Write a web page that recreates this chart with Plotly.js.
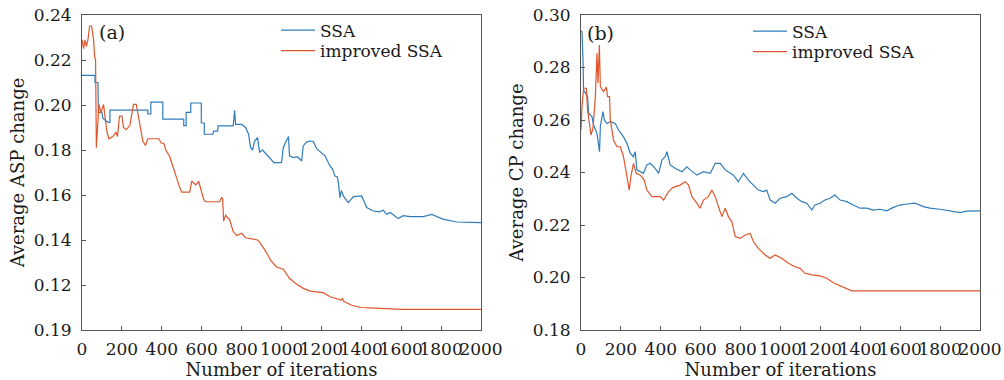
<!DOCTYPE html>
<html>
<head>
<meta charset="utf-8">
<script src="https://cdn.plot.ly/plotly-3.0.1.min.js"></script>
<style>html,body{margin:0;padding:0;background:#fff;}#chart{width:1004px;height:380px;}</style>
</head>
<body>
<div id="chart"></div>
<script>
// ---- Panel (a): Average ASP change ----
const aSSA_x = [0,65,65,80,82,100,105,130,140,140,330,330,345,345,405,405,510,510,522,522,545,545,598,598,613,613,655,660,680,682,758,765,770,800,820,835,845,855,865,880,890,905,925,945,962,1000,1009,1020,1029,1035,1040,1059,1080,1101,1109,1125,1143,1160,1176,1200,1218,1243,1255,1268,1280,1285,1293,1300,1310,1322,1335,1360,1380,1402,1427,1460,1490,1510,1527,1545,1560,1585,1610,1645,1711,1753,1812,1879,1950,2000];
const aSSA_y = [0.2132,0.2132,0.210,0.210,0.1967,0.1967,0.194,0.1923,0.1923,0.1977,0.1977,0.196,0.196,0.2013,0.2013,0.1937,0.1937,0.1908,0.1908,0.1967,0.1967,0.2009,0.2009,0.192,0.192,0.187,0.187,0.1884,0.1884,0.1907,0.1907,0.1977,0.1914,0.1914,0.190,0.187,0.181,0.180,0.184,0.1855,0.179,0.180,0.178,0.176,0.1744,0.1744,0.181,0.1833,0.1855,0.186,0.1774,0.1766,0.177,0.1751,0.1818,0.1835,0.184,0.1838,0.1806,0.179,0.1774,0.1729,0.1716,0.1684,0.168,0.1655,0.1588,0.162,0.1596,0.158,0.1566,0.1593,0.1596,0.1596,0.1544,0.1529,0.1525,0.1532,0.1514,0.1522,0.1512,0.1495,0.1508,0.1504,0.1504,0.1514,0.1492,0.148,0.1478,0.1477];

const aImp_x = [0,8,15,22,30,38,48,52,58,63,68,72,78,85,95,108,115,125,135,155,170,178,188,200,208,222,240,250,258,272,280,290,305,318,330,385,398,410,420,440,455,465,478,490,500,540,550,570,585,598,610,620,690,700,705,710,720,740,757,775,800,820,842,880,892,925,945,975,1009,1040,1076,1110,1143,1209,1244,1298,1305,1312,1351,1400,1443,1520,1600,2000];
const aImp_y = [0.229,0.225,0.229,0.226,0.229,0.2351,0.2351,0.232,0.229,0.2218,0.220,0.181,0.190,0.2003,0.1965,0.2003,0.195,0.188,0.185,0.186,0.188,0.186,0.1951,0.1951,0.190,0.189,0.191,0.197,0.2003,0.2003,0.196,0.190,0.184,0.182,0.185,0.185,0.183,0.183,0.180,0.177,0.173,0.170,0.166,0.1633,0.1613,0.1613,0.1662,0.1645,0.166,0.162,0.158,0.157,0.157,0.159,0.158,0.1484,0.151,0.149,0.144,0.142,0.143,0.141,0.1406,0.140,0.1388,0.1344,0.131,0.128,0.127,0.123,0.1203,0.1185,0.1173,0.1166,0.1148,0.1133,0.114,0.1128,0.111,0.110,0.1098,0.1095,0.1092,0.1092];

// ---- Panel (b): Average CP change ----
const bSSA_x = [0,5,10,13,33,38,55,63,80,93,97,110,117,130,147,172,188,213,230,247,263,272,280,297,313,330,347,372,389,406,422,431,447,472,506,531,547,581,614,648,673,698,723,764,789,814,839,864,889,914,931,948,973,998,1031,1057,1082,1107,1132,1157,1173,1198,1223,1248,1273,1299,1332,1365,1399,1432,1466,1499,1532,1566,1599,1633,1674,1716,1749,1799,1849,1900,1933,2000];
const bSSA_y = [0.294,0.2937,0.2829,0.2714,0.2689,0.2626,0.2613,0.2581,0.2549,0.2479,0.2575,0.2632,0.260,0.2587,0.2594,0.2587,0.2562,0.2536,0.2511,0.2473,0.246,0.2479,0.241,0.2403,0.2397,0.2429,0.2435,0.2416,0.2397,0.2448,0.246,0.2479,0.2429,0.2416,0.2403,0.2422,0.241,0.239,0.2403,0.2397,0.2435,0.2435,0.241,0.239,0.2365,0.2397,0.2371,0.2352,0.2333,0.2327,0.2333,0.2295,0.2283,0.2302,0.2308,0.2321,0.2302,0.2289,0.2283,0.2257,0.2276,0.2283,0.2295,0.2302,0.2314,0.2295,0.2289,0.2276,0.2264,0.2264,0.2257,0.226,0.2254,0.2267,0.2276,0.228,0.2283,0.227,0.2264,0.226,0.2254,0.2247,0.2253,0.2254];

const bImp_x = [0,5,13,27,33,43,50,60,72,80,85,92,97,113,127,133,143,147,163,180,197,213,222,234,242,250,263,277,297,317,330,356,397,414,439,456,472,497,522,539,556,581,597,614,639,656,673,689,706,723,739,756,773,798,823,848,864,889,923,948,973,1006,1040,1073,1098,1123,1157,1198,1232,1265,1290,1324,1357,2000];
const bImp_y = [0.2562,0.2651,0.2721,0.2721,0.2638,0.2581,0.2543,0.2568,0.2689,0.2854,0.274,0.2886,0.2727,0.2708,0.2725,0.2689,0.2689,0.260,0.2524,0.2498,0.2498,0.246,0.2422,0.2371,0.2333,0.2384,0.2435,0.2397,0.239,0.2371,0.2333,0.2308,0.2308,0.2295,0.2327,0.234,0.2346,0.2352,0.2365,0.2352,0.2308,0.2283,0.2264,0.2295,0.2308,0.2333,0.2308,0.227,0.2232,0.2264,0.2232,0.2213,0.2156,0.2149,0.2162,0.2168,0.2137,0.2111,0.2086,0.2073,0.2086,0.2073,0.2054,0.2041,0.2035,0.2016,0.201,0.2006,0.1997,0.198,0.1971,0.1959,0.1949,0.1949];

const xTicks = [0,200,400,600,800,1000,1200,1400,1600,1800,2000];
const aYTicks = [0.10,0.12,0.14,0.16,0.18,0.20,0.22,0.24];
const aYTickText = ['0.19','0.12','0.14','0.16','0.18','0.20','0.22','0.24'];
const bYTicks = [0.18,0.20,0.22,0.24,0.26,0.28,0.30];
const bYTickText = ['0.18','0.20','0.22','0.24','0.26','0.28','0.30'];
const seriesNames = ['SSA','improved SSA'];
const panelLabels = ['(a)','(b)'];
const xTitle = 'Number of iterations';
const yTitles = ['Average ASP change','Average CP change'];

const BLUE = '#2f7cbb', RED = '#e0562c';
const FONT = 'DejaVu Serif, Liberation Serif, serif';
const TXT = '#1a1a1a';

const traces = [
  {x:aSSA_x, y:aSSA_y, name:seriesNames[0], type:'scatter', mode:'lines', line:{color:BLUE,width:1.2}, xaxis:'x', yaxis:'y', legend:'legend'},
  {x:aImp_x, y:aImp_y, name:seriesNames[1], type:'scatter', mode:'lines', line:{color:RED,width:1.2}, xaxis:'x', yaxis:'y', legend:'legend3'},
  {x:bSSA_x, y:bSSA_y, name:seriesNames[0], type:'scatter', mode:'lines', line:{color:BLUE,width:1.2}, xaxis:'x2', yaxis:'y2', legend:'legend2'},
  {x:bImp_x, y:bImp_y, name:seriesNames[1], type:'scatter', mode:'lines', line:{color:RED,width:1.2}, xaxis:'x2', yaxis:'y2', legend:'legend4'}
];

const axCommon = {
  showline:true, mirror:true, linecolor:'#555', linewidth:1,
  ticks:'inside', ticklen:4, tickcolor:'#555', showgrid:false, zeroline:false,
  tickfont:{family:FONT, size:17, color:TXT}
};

const W = 1004;
const py = p => 1 - (p - 15) / 315;
const legBase = {xanchor:'left', yanchor:'middle', bgcolor:'rgba(0,0,0,0)', borderwidth:0,
  font:{family:FONT,size:17,color:TXT}, itemwidth:34};

const layout = {
  width:1004, height:380,
  margin:{l:0, r:0, t:15, b:50},
  paper_bgcolor:'#fff', plot_bgcolor:'#fff',
  font:{family:FONT, color:TXT, size:17},
  showlegend:true,
  xaxis: Object.assign({}, axCommon, {domain:[82/W, 481/W], range:[0,2000], tickvals:xTicks, tickangle:0, ticklabelstandoff:4,
    title:{text:xTitle, font:{family:FONT,size:18,color:TXT}, standoff:0}, anchor:'y'}),
  yaxis: Object.assign({}, axCommon, {domain:[0,1], range:[0.10,0.24], tickvals:aYTicks, ticktext:aYTickText, ticklabelstandoff:6,
    title:{text:yTitles[0], font:{family:FONT,size:18,color:TXT}, standoff:4}, anchor:'x'}),
  xaxis2: Object.assign({}, axCommon, {domain:[581/W, 980/W], range:[0,2000], tickvals:xTicks, tickangle:0, ticklabelstandoff:4,
    title:{text:xTitle, font:{family:FONT,size:18,color:TXT}, standoff:0}, anchor:'y2'}),
  yaxis2: Object.assign({}, axCommon, {domain:[0,1], range:[0.18,0.30], tickvals:bYTicks, ticktext:bYTickText, ticklabelstandoff:6,
    title:{text:yTitles[1], font:{family:FONT,size:18,color:TXT}, standoff:4}, anchor:'x2'}),
  legend: Object.assign({}, legBase, {x:276/W, y:py(30.5)}),
  legend3: Object.assign({}, legBase, {x:276/W, y:py(51)}),
  legend2: Object.assign({}, legBase, {x:748/W, y:py(31.5)}),
  legend4: Object.assign({}, legBase, {x:748/W, y:py(52)}),
  annotations:[
    {text:panelLabels[0], xref:'paper', yref:'paper', x:97/W, y:py(32), xanchor:'left', yanchor:'middle', showarrow:false, font:{family:FONT,size:19,color:TXT}},
    {text:panelLabels[1], xref:'paper', yref:'paper', x:585/W, y:py(33), xanchor:'left', yanchor:'middle', showarrow:false, font:{family:FONT,size:19,color:TXT}}
  ]
};

Plotly.newPlot('chart', traces, layout, {staticPlot:true, displayModeBar:false});
</script>
</body>
</html>
